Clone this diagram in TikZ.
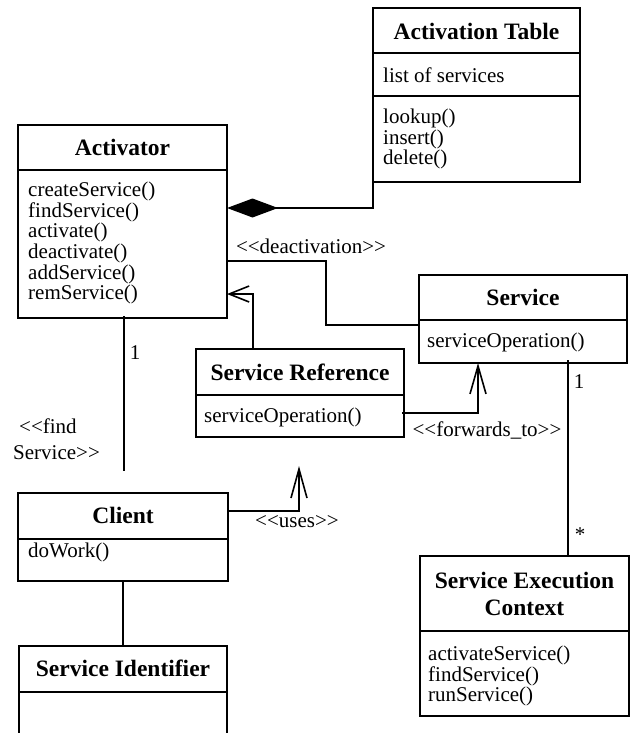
\documentclass[tikz,border=0pt]{standalone}
\usepackage{fontspec}
\setmainfont{Liberation Serif}
\usetikzlibrary{arrows.meta,calc}
% stereotype brackets, kept as two separate characters each
\newcommand\stereo[1]{\textless\kern0pt\textless#1\textgreater\kern0pt\textgreater}

\begin{document}
\begin{tikzpicture}[x=1pt,y=-1pt,
  classbox/.style={draw,line width=2pt,anchor=north west,inner sep=0pt,outer sep=0pt},
  rule/.style={line width=2pt},
  link/.style={line width=2pt},
  title/.style={inner sep=0pt,font=\fontsize{23.5}{27}\selectfont\bfseries,align=center},
  body/.style={inner sep=0pt,anchor=west,align=left,font=\fontsize{21}{20.7}\selectfont},
  lbl/.style={inner sep=0pt,font=\fontsize{21}{26}\selectfont},
  openhead/.style={-{Straight Barb[length=#1,width=16pt,line width=1.6pt]}},
]
\useasboundingbox (0,0) rectangle (632,733);
\clip (0,0) rectangle (632,733);

% ---- classes ----
\node[classbox,minimum width=207pt,minimum height=174pt] (tab) at (373,8) {};
\draw[rule] ([yshift=-45pt]tab.north west) -- ([yshift=-45pt]tab.north east);
\draw[rule] ([yshift=-88pt]tab.north west) -- ([yshift=-88pt]tab.north east);
\node[title] (tabT) at (476.5,31) {Activation Table};
\node[body] (tabA) at (383,75) {list of services};
\node[body] (tabM) at (383,139) {lookup()\\insert()\\delete()};

\node[classbox,minimum width=209pt,minimum height=193pt] (act) at (18,125) {};
\draw[rule] ([yshift=-45pt]act.north west) -- ([yshift=-45pt]act.north east);
\node[title] (actT) at (122.5,147) {Activator};
\node[body] (actM) at (28,243) {createService()\\findService()\\activate()\\deactivate()\\addService()\\remService()};

\node[classbox,minimum width=208pt,minimum height=88pt] (svc) at (419,275) {};
\draw[rule] ([yshift=-45pt]svc.north west) -- ([yshift=-45pt]svc.north east);
\node[title] (svcT) at (523,297) {Service};
\node[body] (svcM) at (427,342) {serviceOperation()};

\node[classbox,minimum width=208pt,minimum height=88pt] (sr) at (196,349) {};
\draw[rule] ([yshift=-46pt]sr.north west) -- ([yshift=-46pt]sr.north east);
\node[title] (srT) at (300,372) {Service Reference};
\node[body] (srM) at (204,417) {serviceOperation()};

\node[classbox,minimum width=210pt,minimum height=88pt] (cl) at (18,493) {};
\draw[rule] ([yshift=-46pt]cl.north west) -- ([yshift=-46pt]cl.north east);
\node[title] (clT) at (123,515) {Client};
\node[body] (clM) at (28,552) {doWork()};

\node[classbox,minimum width=208pt,minimum height=110pt] (si) at (19,646) {};
\draw[rule] ([yshift=-46pt]si.north west) -- ([yshift=-46pt]si.north east);
\node[title] (siT) at (123,668) {Service Identifier};

\node[classbox,minimum width=209pt,minimum height=160pt] (sec) at (420,556) {};
\draw[rule] ([yshift=-75pt]sec.north west) -- ([yshift=-75pt]sec.north east);
\node[title] (secT) at (524.5,593.5) {Service Execution\\Context};
\node[body] (secM) at (428,676) {activateService()\\findService()\\runService()};

% ---- bend points ----
\coordinate (cmpTop) at ([yshift=-120pt]tab.north west);
\coordinate (cmpBend) at (373,208);
\coordinate (deA) at (326,261);
\coordinate (deB) at (326,325);
\coordinate (srUp) at (253,294);
\coordinate (fwd) at (478,413);
\coordinate (use) at (299,511);
\coordinate (useTip) at (299,466);
\coordinate (fsEnd) at (124,471);
\coordinate (sx) at (568,0);

% ---- connectors ----
\draw[link,{Diamond[length=51pt,width=19pt]}-] (act.east |- cmpBend) -- (cmpBend) -- (cmpTop);
\draw[link] (act.east |- deA) -- (deA) -- (deB) -- (svc.west |- deB);
\draw[link,openhead=20pt] (sr.north -| srUp) -- (srUp) -- (act.east |- srUp);
\draw[link,openhead=28pt] ([xshift=-2pt]sr.east |- fwd) -- (fwd) -- (svc.south -| fwd);
\draw[link,openhead=29pt] (cl.east |- use) -- (use) -- (useTip);
\draw[link] ([yshift=2pt]act.south -| fsEnd) -- (fsEnd);
\draw[link] (cl.south) -- (si.north);
\draw[link] ([yshift=3pt]svc.south -| sx) -- (sec.north -| sx);

% ---- labels ----
\node[lbl] (lDeact) at (311,246) {\stereo{deactivation}};
\node[lbl] (lFwd) at (487,430) {\stereo{forwards\_to}};
\node[lbl] (lUses) at (297,522) {\stereo{uses}};
\node[lbl] (lOne) at (135,353) {1};
\node[lbl] (lOneB) at (579,382) {1};
\node[lbl] (lStar) at (580,535) {*};
\node[lbl,anchor=west,align=left,font=\fontsize{21}{26}\selectfont] (lFind) at (13,439) {\hspace*{6pt}\textless\kern0pt\textless find\\Service\textgreater\kern0pt\textgreater};
\end{tikzpicture}
\end{document}
